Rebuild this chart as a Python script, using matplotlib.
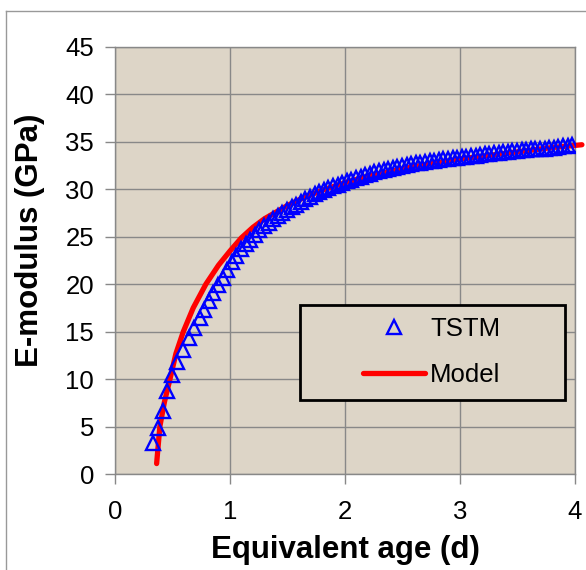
import matplotlib
matplotlib.use("Agg")
import matplotlib.pyplot as plt
from matplotlib.lines import Line2D
from matplotlib.patches import Rectangle

plt.rcParams['font.family'] = ['Liberation Sans', 'DejaVu Sans']

# TSTM measurements (equivalent age in days, E-modulus in GPa)
tstm_age = [0.33, 0.37, 0.415, 0.455, 0.495, 0.54, 0.59, 0.64, 0.69, 0.735, 0.775,
            0.815, 0.855, 0.895, 0.935, 0.975, 1.015, 1.055, 1.095, 1.135, 1.175,
            1.215, 1.255, 1.295, 1.335, 1.375, 1.415, 1.455, 1.495, 1.535, 1.575,
            1.615, 1.655, 1.695, 1.735, 1.775, 1.815, 1.855, 1.895, 1.935, 1.975,
            2.015, 2.055, 2.095, 2.135, 2.175, 2.215, 2.255, 2.295, 2.335, 2.375,
            2.415, 2.455, 2.495, 2.535, 2.575, 2.615, 2.655, 2.695, 2.735, 2.775,
            2.815, 2.855, 2.895, 2.935, 2.975, 3.015, 3.055, 3.095, 3.135, 3.175,
            3.215, 3.255, 3.295, 3.335, 3.375, 3.415, 3.455, 3.495, 3.535, 3.575,
            3.615, 3.655, 3.695, 3.735, 3.775, 3.815, 3.855, 3.895, 3.935, 3.97]
tstm_E = [3.3, 4.8, 6.6, 8.7, 10.4, 11.8, 13.1, 14.3, 15.4, 16.4, 17.3,
          18.2, 19.1, 19.9, 20.7, 21.5, 22.3, 23.0, 23.7, 24.2, 24.7,
          25.2, 25.7, 26.1, 26.5, 26.9, 27.2, 27.5, 27.8, 28.1, 28.4,
          28.7, 29.0, 29.2, 29.5, 29.7, 29.9, 30.1, 30.3, 30.5, 30.7,
          30.9, 31.0, 31.2, 31.3, 31.5, 31.6, 31.8, 31.9, 32.0, 32.1,
          32.2, 32.4, 32.5, 32.6, 32.7, 32.8, 32.8, 32.9, 33.0, 33.0,
          33.1, 33.2, 33.2, 33.3, 33.3, 33.4, 33.4, 33.5, 33.5, 33.6,
          33.7, 33.7, 33.8, 33.8, 33.9, 33.9, 34.0, 34.0, 34.1, 34.1,
          34.2, 34.2, 34.3, 34.3, 34.4, 34.4, 34.5, 34.6, 34.6, 34.7]

# Model curve
model_age = [0.362, 0.39, 0.43, 0.478, 0.53, 0.594, 0.68, 0.79, 0.9, 1.0, 1.1,
             1.2, 1.3, 1.4, 1.5, 1.6, 1.8, 2.0, 2.2, 2.4, 2.6, 2.8, 3.0, 3.2,
             3.4, 3.6, 3.8, 4.06]
model_E = [1.1, 5.0, 7.6, 10.0, 12.7, 15.0, 17.5, 20.0, 22.0, 23.5, 24.9,
           26.0, 26.9, 27.6, 28.3, 28.9, 29.9, 30.7, 31.4, 31.9, 32.4, 32.8,
           33.2, 33.5, 33.8, 34.1, 34.4, 34.7]

x_ticks = [0, 1, 2, 3, 4]
y_ticks = [0, 5, 10, 15, 20, 25, 30, 35, 40, 45]

BG = '#DDD5C7'
W, H = 586, 570
fig = plt.figure(figsize=(W / 100, H / 100), dpi=100)
fig.patch.set_facecolor('white')

ax = fig.add_axes([115 / W, 1 - 474 / H, 460 / W, 427 / H])
ax.set_facecolor(BG)

ax.plot(model_age, model_E, color='#FF0000', lw=3.8, solid_capstyle='round',
        clip_on=False, zorder=3, label='Model')
ax.plot(tstm_age, tstm_E, linestyle='none', marker='^', ms=9.5,
        markerfacecolor='none', markeredgecolor='#0000FF', markeredgewidth=1.7,
        zorder=4, label='TSTM')

ax.set_xlim(0, 4)
ax.set_ylim(0, 45)
ax.set_xticks(x_ticks)
ax.set_yticks(y_ticks)
ax.grid(True, color='#888888', lw=1.0)
ax.set_axisbelow(True)
for s in ax.spines.values():
    s.set_color('#888888')
    s.set_linewidth(1.0)
ax.tick_params(direction='out', length=7, width=1, color='#888888',
               labelsize=18.5)
ax.tick_params(axis='y', pad=8)
ax.tick_params(axis='x', pad=12)

ax.set_xlabel('Equivalent age (d)', fontsize=22.5, fontweight='bold')
ax.set_ylabel('E-modulus (GPa)', fontsize=22.5, fontweight='bold')
ax.xaxis.set_label_coords(0.5, (474 - 550) / 427)
ax.xaxis.label.set_va('center')
ax.yaxis.set_label_coords((30 - 115) / 460, (474 - 240) / 427)
ax.yaxis.label.set_va('center')

# legend box
box = Rectangle(((300 - 115) / 460, (474 - 400) / 427), (565 - 300) / 460,
                (400 - 305) / 427, transform=ax.transAxes, facecolor=BG,
                edgecolor='black', lw=2, zorder=5)
ax.add_patch(box)
handles = [Line2D([], [], linestyle='none', marker='^', ms=9.5, markerfacecolor='none',
                  markeredgecolor='#0000FF', markeredgewidth=1.7),
           Line2D([], [], color='#FF0000', lw=3.8, solid_capstyle='round')]
leg = ax.legend(handles, ['TSTM', 'Model'], loc='center',
                bbox_to_anchor=((432 - 115) / 460, (474 - 352) / 427),
                fontsize=18.5, frameon=False,
                handlelength=2.4, handletextpad=0.2, borderpad=0,
                labelspacing=0.85)
leg.set_zorder(6)

# figure border (left and top edges visible)
fig.add_artist(Line2D([6 / W, 6 / W], [0, 1 - 11 / H], color='#999999', lw=1,
                      transform=fig.transFigure))
fig.add_artist(Line2D([6 / W, 1], [1 - 11 / H, 1 - 11 / H], color='#999999', lw=1,
                      transform=fig.transFigure))

fig.savefig('out.png', dpi=100)
